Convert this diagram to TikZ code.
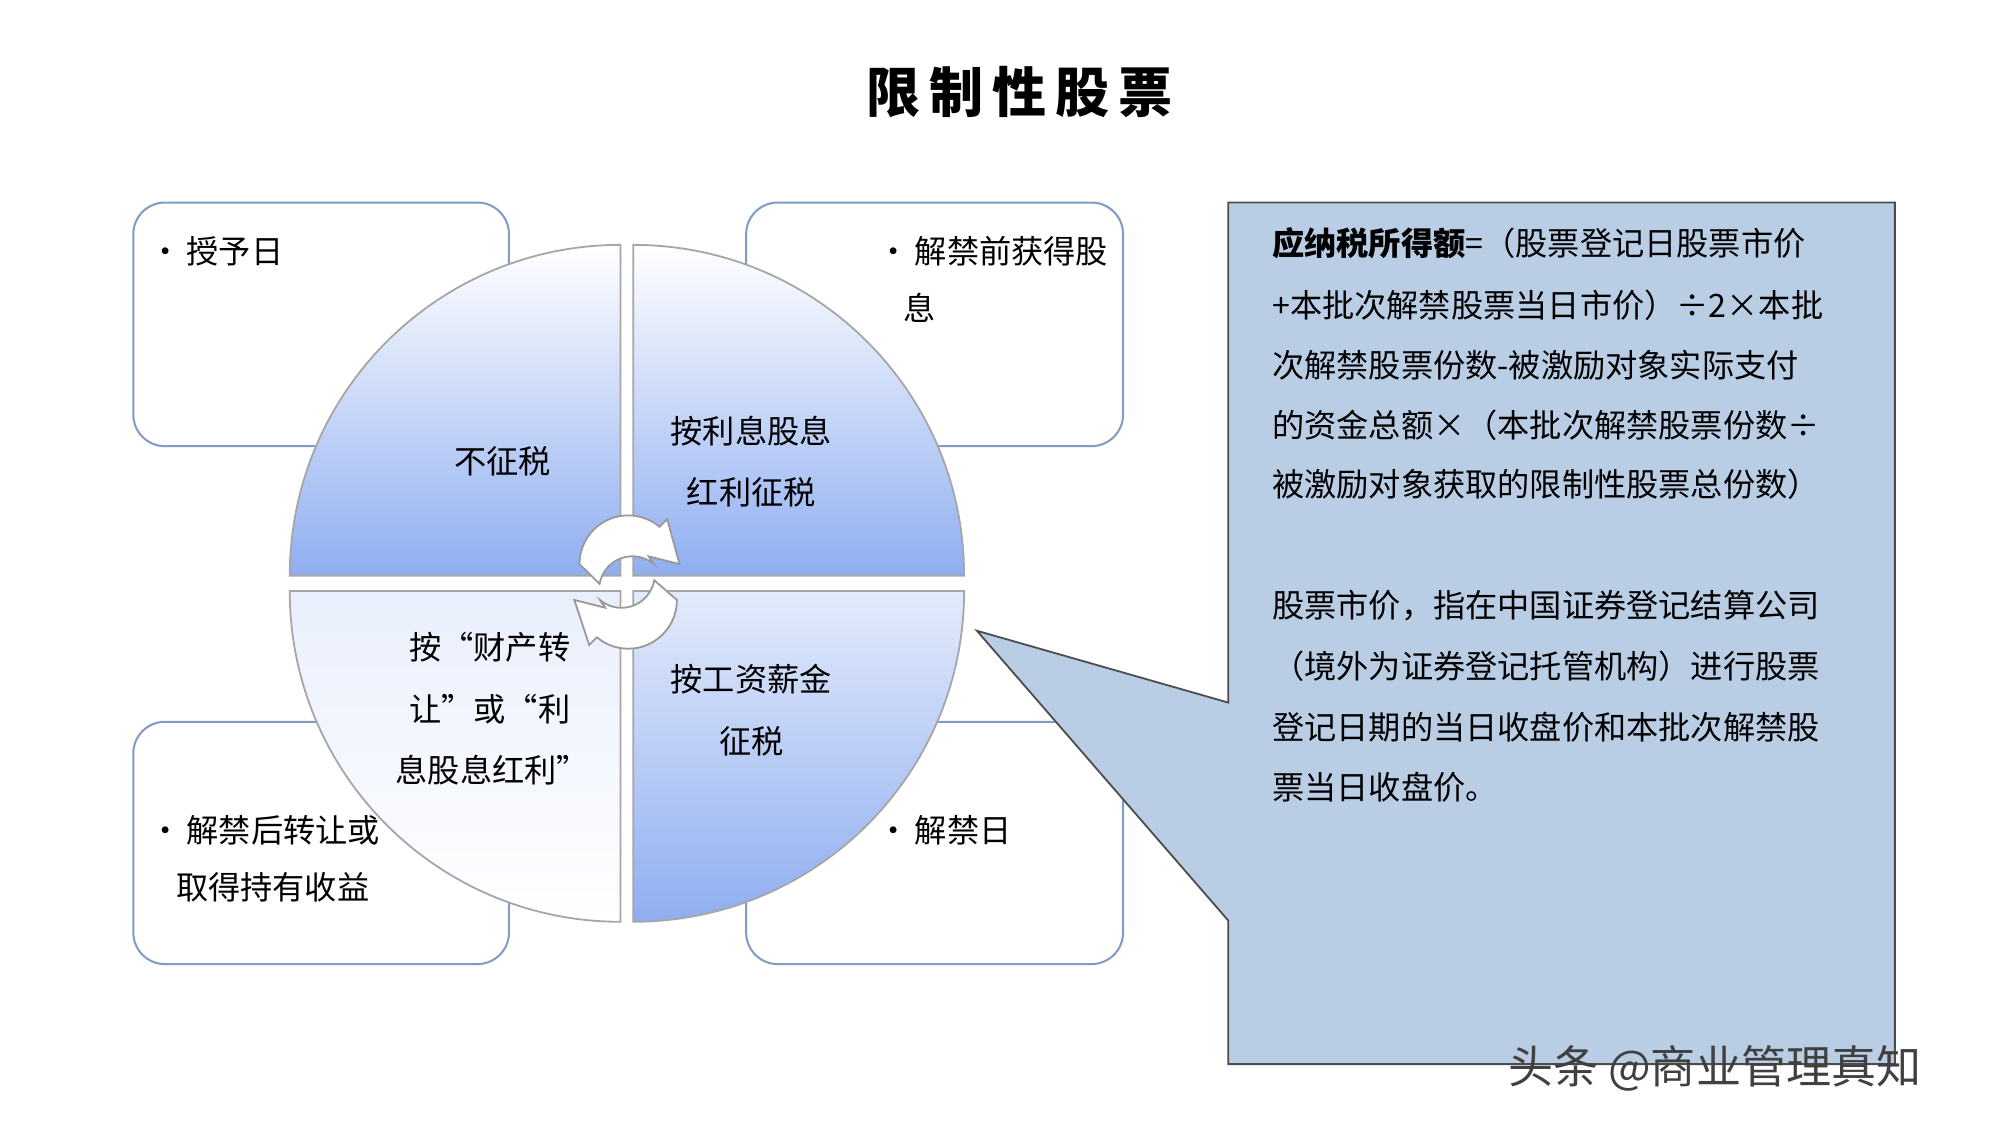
\documentclass[tikz,border=0pt]{standalone}
\usepackage{fontspec}
\setmainfont{Noto Sans CJK SC}
\definecolor{bx}{HTML}{7F9CC4}
\definecolor{qb}{HTML}{8FAEF0}
\definecolor{cf}{HTML}{B9CDE5}
\begin{document}
\begin{tikzpicture}[x=0.02cm,y=-0.02cm,
  box/.style={draw=bx,line width=0.9pt,rounded corners=14pt},
  quad/.style={draw=gray!70,line width=0.8pt,top color=white,bottom color=qb},
  t/.style={font=\fontsize{14.3pt}{17pt}\selectfont,inner sep=0pt},
  arr/.style={draw=gray!80,fill=white,line width=0.8pt}]
\useasboundingbox (0,0) rectangle (1560,878);
\node[font=\fontsize{24pt}{28pt}\selectfont\bfseries] (title) at (795,72) {限\,制\,性\,股\,票};
% boxes
\draw[box] (104,158) rectangle (397,348);
\draw[box] (582,158) rectangle (876,348);
\draw[box] (104,563) rectangle (397,752);
\draw[box] (582,563) rectangle (876,752);
% quadrants
\def\R{258}
\path[quad] (484,449) -- (226,449) arc[start angle=180,end angle=270,radius=\R] -- cycle;
\path[quad] (494,449) -- (494,191) arc[start angle=270,end angle=360,radius=\R] -- cycle;
\path[quad,top color=white!80!qb,bottom color=white] (484,461) -- (484,719) arc[start angle=90,end angle=180,radius=\R] -- cycle;
\path[quad,top color=white!75!qb,bottom color=qb] (494,461) -- (752,461) arc[start angle=0,end angle=90,radius=\R] -- cycle;
% circular arrows
\draw[arr] (452,440) arc[start angle=180,end angle=310,radius=38] -- ++(6,-6) -- (530,440) -- (506,434) -- ++(4,6) arc[start angle=310,end angle=190,radius=26] -- cycle;
\draw[arr] (528,468) arc[start angle=0,end angle=130,radius=38] -- ++(-6,6) -- (448,468) -- (472,474) -- ++(-4,-6) arc[start angle=130,end angle=10,radius=26] -- cycle;
% callout
\draw[draw=black!70,fill=cf,line width=0.8pt]
  (958,158) -- (1478,158) -- (1478,830) -- (958,830) -- (958,718) -- (762,492) -- (958,548) -- cycle;
% quadrant texts
\node[t] (q1) at (392,360) {不征税};
\node[t] (q2a) at (586,336) {按利息股息};
\node[t] (q2b) at (586,384) {红利征税};
\node[t] (q3a) at (382,505) {按“财产转};
\node[t] (q3b) at (382,553) {让”或“利};
\node[t] (q3c) at (384,601) {息股息红利”};
\node[t] (q4a) at (586,530) {按工资薪金};
\node[t] (q4b) at (586,578) {征税};
% box texts
\node[t,anchor=west] (b1) at (116,196) {•\,授予日};
\node[t,anchor=west] (b2a) at (684,196) {•\,解禁前获得股};
\node[t,anchor=west] (b2b) at (704,240) {息};
\node[t,anchor=west] (b3a) at (116,648) {•\,解禁后转让或};
\node[t,anchor=west] (b3b) at (137,692) {取得持有收益};
\node[t,anchor=west] (b4) at (684,648) {•\,解禁日};
% callout text
\node[t,anchor=west] (c1) at (992,190) {\textbf{应纳税所得额}=（股票登记日股票市价};
\node[t,anchor=west] (c2) at (992,238) {+本批次解禁股票当日市价）÷2×本批};
\node[t,anchor=west] (c3) at (992,285) {次解禁股票份数-被激励对象实际支付};
\node[t,anchor=west] (c4) at (992,332) {的资金总额×（本批次解禁股票份数÷};
\node[t,anchor=west] (c5) at (992,378) {被激励对象获取的限制性股票总份数）};
\node[t,anchor=west] (c6) at (992,472) {股票市价，指在中国证券登记结算公司};
\node[t,anchor=west] (c7) at (992,520) {（境外为证券登记托管机构）进行股票};
\node[t,anchor=west] (c8) at (992,567) {登记日期的当日收盘价和本批次解禁股};
\node[t,anchor=west] (c9) at (992,614) {票当日收盘价。};
% watermark
\node[anchor=west,inner sep=0pt,text=black!75,font=\fontsize{20pt}{24pt}\selectfont] (wm) at (1176,833) {头条 @商业管理真知};
\end{tikzpicture}
\end{document}
